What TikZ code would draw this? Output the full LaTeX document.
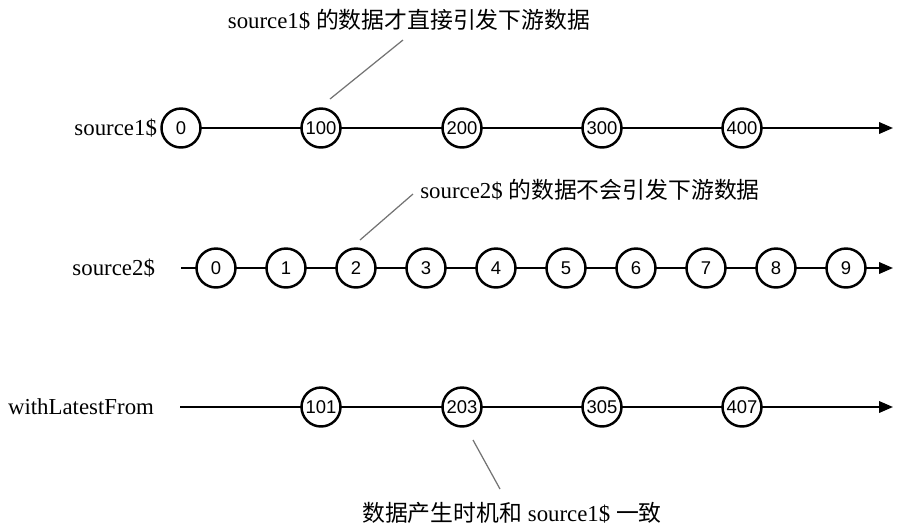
\documentclass[tikz,border=0pt]{standalone}
\usepackage{fontspec}
\setmainfont{Liberation Serif}
\newfontfamily\cjk{Noto Sans CJK SC}
\newfontfamily\numfont{Liberation Sans}
\usetikzlibrary{arrows.meta}

\begin{document}
\begin{tikzpicture}[x=0.02cm,y=-0.02cm,line width=1.2pt,>={Triangle[length=2.8mm,width=2.3mm]},
  marble/.style={draw,circle,fill=white,line width=1.4pt,minimum size=0.78cm,inner sep=0pt,font=\numfont\fontsize{10.5}{13}\selectfont},
  lbl/.style={font=\fontsize{13}{16}\selectfont,inner sep=0pt},
  callout/.style={draw=black!55,line width=0.7pt}]
\useasboundingbox (0,0) rectangle (900,529);
% ---------- source1$ ----------
\node[lbl,anchor=east] (s1) at (158,128) {source1\$};
\coordinate (s1a) at (181,128);
\coordinate (s1b) at (893,128);
\draw[->] (s1a) -- (s1b);
\node[marble] (a0) at (181,128) {0};
\foreach \v/\x in {100/321,200/462,300/602,400/742}
  \node[marble] (a\v) at (\x,128) {\v};
% 注释 1
\node[lbl] (n1) at (409,20) {source1\$ {\cjk 的数据才直接引发下游数据}};
\coordinate (n1p) at (403,40);
\coordinate (n1q) at (330,99);
\draw[callout] (n1p) -- (n1q);
% ---------- source2$ ----------
\node[lbl,anchor=east] (s2) at (156,268) {source2\$};
\coordinate (s2a) at (181,268);
\coordinate (s2b) at (893,268);
\draw[->] (s2a) -- (s2b);
\foreach \i in {0,...,9}
  \node[marble] (b\i) at (216+\i*70,268) {\i};
% 注释 2
\node[lbl] (n2) at (590,190) {source2\$ {\cjk 的数据不会引发下游数据}};
\coordinate (n2p) at (413,194);
\coordinate (n2q) at (360,240);
\draw[callout] (n2p) -- (n2q);
% ---------- withLatestFrom ----------
\node[lbl,anchor=east] (w) at (155,407) {withLatestFrom};
\coordinate (wa) at (180,407);
\coordinate (wb) at (893,407);
\draw[->] (wa) -- (wb);
\foreach \v/\x in {101/321,203/462,305/602,407/742}
  \node[marble] (c\v) at (\x,407) {\v};
% 注释 3
\node[lbl] (n3) at (512,513) {{\cjk 数据产生时机和} source1\$ {\cjk 一致}};
\coordinate (n3p) at (473,440);
\coordinate (n3q) at (500,489);
\draw[callout] (n3p) -- (n3q);
\end{tikzpicture}
\end{document}
